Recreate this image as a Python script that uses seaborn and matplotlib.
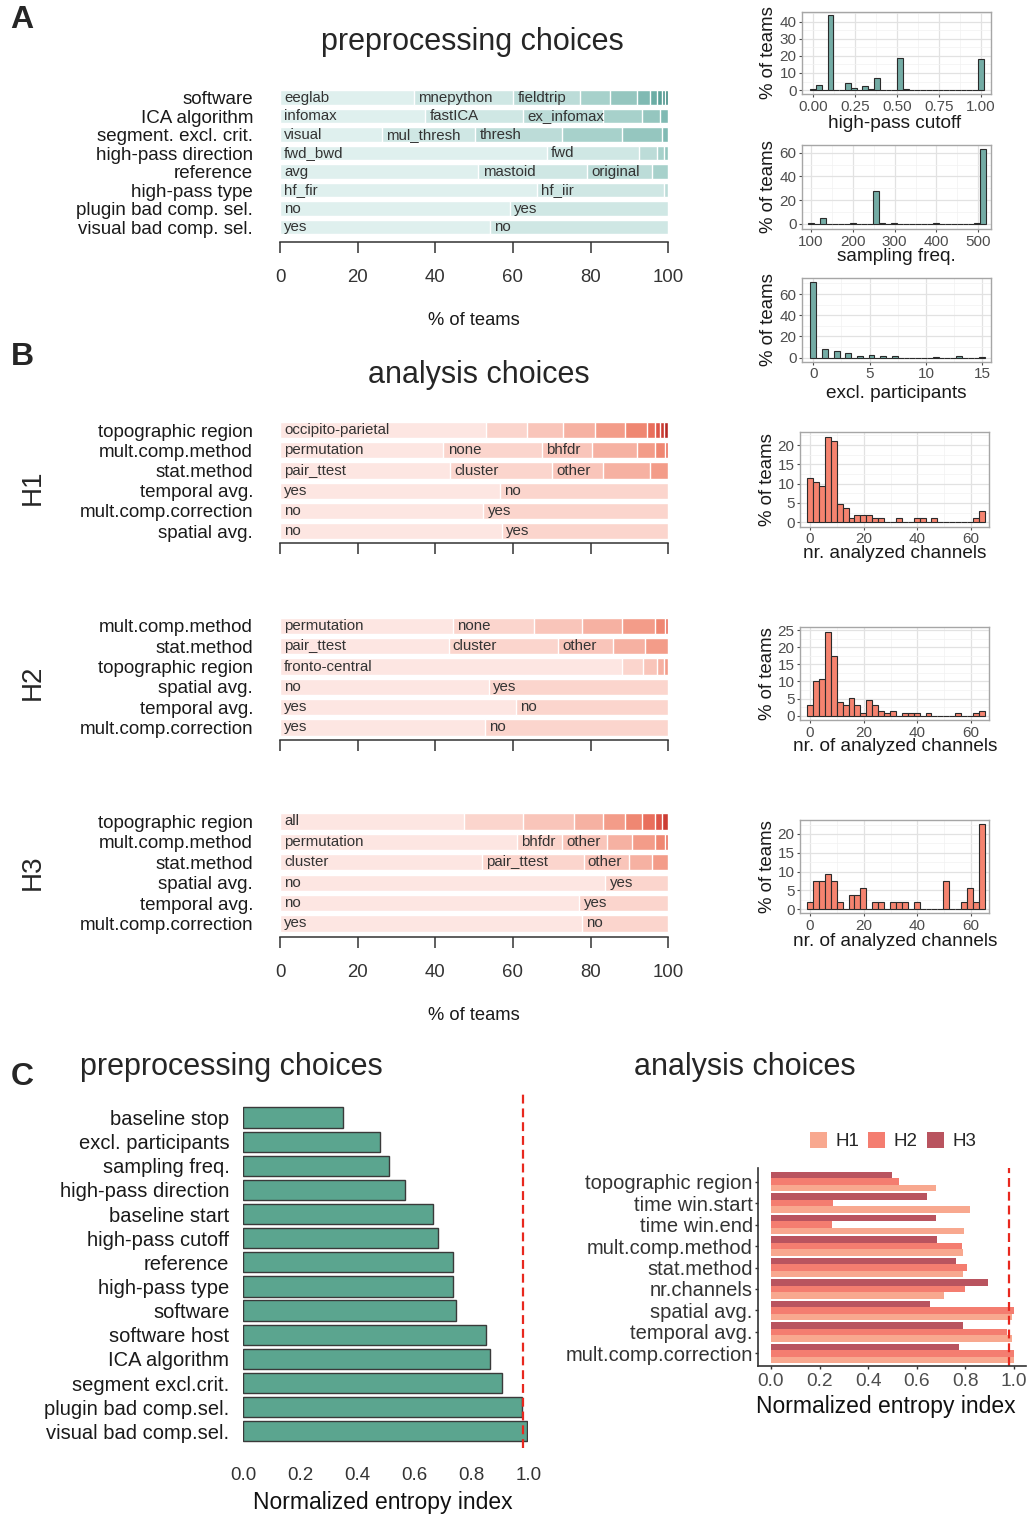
import numpy as np
import pandas as pd
import matplotlib
matplotlib.use("Agg")
import matplotlib.pyplot as plt
from matplotlib.ticker import AutoMinorLocator, FormatStrFormatter
import seaborn as sns

sns.set_theme(style="white")
plt.rcParams["font.family"] = ["Liberation Sans", "DejaVu Sans"]

# ---------------- data ----------------
# A: preprocessing choices, share of teams per option (%)
pre_rows = ["software", "ICA algorithm", "segment. excl. crit.", "high-pass direction",
            "reference", "high-pass type", "plugin bad comp. sel.", "visual bad comp. sel."]
pre_shares = [
    [34.4, 25.7, 17.2, 7.8, 6.8, 3.5, 1.7, 1.3, 0.8, 0.8],
    [37.4, 25.3, 20.6, 9.9, 4.7, 2.1],
    [26.2, 24.1, 22.3, 15.5, 10.3, 1.6],
    [68.7, 23.7, 4.7, 1.7, 1.2],
    [51.1, 27.9, 16.8, 4.2],
    [66.2, 32.6, 1.2],
    [59.3, 40.7],
    [54.1, 45.9],
]
pre_names = [
    ["eeglab", "mnepython", "fieldtrip"],
    ["infomax", "fastICA", "ex_infomax"],
    ["visual", "mul_thresh", "thresh"],
    ["fwd_bwd", "fwd"],
    ["avg", "mastoid", "original"],
    ["hf_fir", "hf_iir"],
    ["no", "yes"],
    ["yes", "no"],
]

# B: analysis choices per hypothesis (%)
h1_rows = ["topographic region", "mult.comp.method", "stat.method",
           "temporal avg.", "mult.comp.correction", "spatial avg."]
h1_shares = [
    [53.1, 10.5, 9.4, 8.2, 7.7, 5.6, 2.1, 1.3, 1.1, 1.0],
    [42.1, 25.3, 12.9, 11.6, 4.7, 2.6, 0.8],
    [43.8, 26.2, 13.3, 12.1, 4.6],
    [56.7, 43.3],
    [52.4, 47.6],
    [57.1, 42.9],
]
h1_names = [["occipito-parietal"], ["permutation", "none", "bhfdr"],
            ["pair_ttest", "cluster", "other"], ["yes", "no"], ["no", "yes"], ["no", "yes"]]

h2_rows = ["mult.comp.method", "stat.method", "topographic region",
           "spatial avg.", "temporal avg.", "mult.comp.correction"]
h2_shares = [
    [44.5, 20.8, 12.4, 10.4, 8.5, 2.6, 0.8],
    [43.4, 28.3, 14.0, 8.4, 5.9],
    [88.1, 5.4, 3.6, 1.7, 1.2],
    [53.7, 46.3],
    [60.8, 39.2],
    [52.7, 47.3],
]
h2_names = [["permutation", "none"], ["pair_ttest", "cluster", "other"], ["fronto-central"],
            ["no", "yes"], ["yes", "no"], ["yes", "no"]]

h3_rows = ["topographic region", "mult.comp.method", "stat.method",
           "spatial avg.", "temporal avg.", "mult.comp.correction"]
h3_shares = [
    [47.4, 15.1, 13.1, 7.7, 5.6, 4.3, 3.4, 1.8, 1.6],
    [61.0, 11.6, 11.6, 6.4, 6.0, 2.6, 0.8],
    [52.1, 26.1, 11.6, 6.0, 4.2],
    [83.8, 16.2],
    [77.1, 22.9],
    [77.7, 22.3],
]
h3_names = [["all"], ["permutation", "bhfdr", "other"], ["cluster", "pair_ttest", "other"],
            ["no", "yes"], ["no", "yes"], ["yes", "no"]]

# histograms: occupied bins (value, % of teams)
hp_cutoff = [0.0, 0.034, 0.103, 0.207, 0.241, 0.310, 0.345, 0.379, 0.517, 0.552, 1.0]
hp_cutoff_pct = [0.8, 3.0, 44.0, 4.0, 1.2, 2.3, 0.6, 7.2, 18.5, 0.6, 18.0]

samp_freq = [100, 128, 200, 256, 270, 300, 400, 500, 512]
samp_freq_pct = [0.6, 4.8, 0.6, 27.5, 0.6, 0.6, 0.6, 1.2, 63.5]

excl_part = [0, 1, 2, 3, 4, 5, 6, 7, 11, 13, 15]
excl_part_pct = [71.0, 8.2, 6.6, 4.7, 1.2, 2.8, 1.2, 1.2, 0.6, 1.2, 0.6]

h1_chan = [0, 2, 4, 7, 9, 11, 13, 15, 18, 20, 22, 24, 26, 33, 40, 42, 46, 62, 64]
h1_chan_pct = [11.5, 10.5, 9.5, 22.0, 21.0, 4.8, 3.8, 1.0, 1.9, 1.9, 1.9, 1.0, 1.0,
               1.0, 1.0, 1.0, 1.0, 1.0, 2.9]
h2_chan = [0, 2, 4, 7, 9, 11, 13, 15, 18, 20, 22, 24, 26, 29, 31, 35, 38, 40, 44, 55, 62, 64]
h2_chan_pct = [3.0, 10.0, 10.8, 24.5, 17.5, 4.0, 3.0, 5.3, 3.0, 0.8, 4.5, 3.0, 1.5, 0.8,
               1.5, 0.8, 0.8, 0.8, 0.8, 0.8, 0.8, 1.5]
h3_chan = [0, 2, 4, 7, 9, 11, 15, 18, 20, 24, 26, 31, 33, 35, 40, 51, 57, 60, 62, 64]
h3_chan_pct = [1.9, 7.5, 7.5, 9.4, 7.5, 1.9, 3.8, 3.8, 5.7, 1.9, 1.9, 1.9, 1.9, 1.9,
               1.9, 7.5, 1.9, 5.7, 1.9, 22.6]

# C: normalized entropy index
c_pre_labels = ["baseline stop", "excl. participants", "sampling freq.", "high-pass direction",
                "baseline start", "high-pass cutoff", "reference", "high-pass type", "software",
                "software host", "ICA algorithm", "segment excl.crit.", "plugin bad comp.sel.",
                "visual bad comp.sel."]
c_pre_entropy = [0.349, 0.480, 0.510, 0.567, 0.667, 0.683, 0.735, 0.737, 0.745,
                 0.850, 0.866, 0.907, 0.977, 0.994]

c_an_labels = ["topographic region", "time win.start", "time win.end", "mult.comp.method",
               "stat.method", "nr.channels", "spatial avg.", "temporal avg.",
               "mult.comp.correction"]
c_an_h1 = [0.678, 0.819, 0.794, 0.789, 0.791, 0.711, 0.993, 0.993, 1.0]
c_an_h2 = [0.527, 0.257, 0.252, 0.785, 0.808, 0.800, 1.0, 0.973, 1.0]
c_an_h3 = [0.497, 0.641, 0.679, 0.683, 0.760, 0.894, 0.656, 0.789, 0.775]
entropy_ref = 0.98

# ---------------- styling ----------------
teal_ramp = ["#dff0ee", "#cfe7e4", "#bcdcd8", "#a7d1cb", "#95c6bf",
             "#80bab3", "#6bada5", "#5ba198", "#4a948c", "#3d8880"]
red_ramp = ["#fde6e2", "#fbd5cd", "#f9c5ba", "#f6b1a2", "#f39c89",
            "#ef8772", "#e96f5d", "#dd5447", "#cc3c33", "#b52925"]
hist_teal = "#74aca5"
hist_red = "#f5836f"
hyp_colors = {"H1": "#f8a88f", "H2": "#f47d70", "H3": "#b9545f"}

W, H = 1031, 1514
fig = plt.figure(figsize=(W / 100, H / 100), dpi=100)
fig.patch.set_facecolor("white")


def px_axes(x0, y0, x1, y1):
    return fig.add_axes([x0 / W, 1 - y1 / H, (x1 - x0) / W, (y1 - y0) / H])


def fig_text(x, y, s, **kw):
    fig.text(x / W, 1 - y / H, s, **kw)


def ax_frac(ax, x_px, y_px):
    bb = ax.get_position()
    x0, x1 = bb.x0 * W, bb.x1 * W
    ytop, ybot = (1 - bb.y1) * H, (1 - bb.y0) * H
    return (x_px - x0) / (x1 - x0), (ybot - y_px) / (ybot - ytop)


def place_xlabel(ax, text, x_px, y_px, **kw):
    ax.set_xlabel(text, **kw)
    ax.xaxis.set_label_coords(*ax_frac(ax, x_px, y_px))
    ax.xaxis.label.set_va("center")


def place_ylabel(ax, text, x_px, y_px, **kw):
    ax.set_ylabel(text, **kw)
    ax.yaxis.set_label_coords(*ax_frac(ax, x_px, y_px))
    ax.yaxis.label.set_va("center")


def stacked_rows(ax, rows, shares, names, ramp, bottom_ext, show_ticklabels):
    nmax = max(len(s) for s in shares)
    # draw cumulative bars from the outermost segment inwards
    for k in range(nmax - 1, -1, -1):
        sub_rows = [r for r, s in zip(rows, shares) if len(s) > k]
        ends = [float(np.sum(s[:k + 1])) for s in shares if len(s) > k]
        sns.barplot(x=ends, y=sub_rows, order=rows, orient="h", color=ramp[k],
                    saturation=1, width=0.8, edgecolor="white", linewidth=1.0,
                    errorbar=None, ax=ax)
    for i, (s, nm) in enumerate(zip(shares, names)):
        starts = np.concatenate([[0.0], np.cumsum(s)[:-1]])
        for st, label in zip(starts, nm):
            ax.annotate(label, (st, i), xytext=(3, 0), textcoords="offset points",
                        va="center", ha="left", fontsize=10.8, color="#333333")
    n = len(rows)
    ax.set_xlim(0, 100)
    ax.set_ylim(n - 1 + bottom_ext, -0.5)
    for s in ("top", "right", "left"):
        ax.spines[s].set_visible(False)
    ax.spines["bottom"].set_color("#333333")
    ax.spines["bottom"].set_linewidth(1.1)
    ax.set_xticks(range(0, 101, 20))
    ax.tick_params(axis="x", bottom=True, length=8, width=1.1, color="#333333",
                   direction="out", labelsize=13.4, labelcolor="#333333", pad=11.5,
                   labelbottom=show_ticklabels)
    ax.tick_params(axis="y", left=False, length=0, pad=19.4, labelsize=13.5,
                   labelcolor="#1a1a1a")
    ax.set_xlabel("")
    ax.set_ylabel("")
    ax.set_facecolor("white")


def hist_panel(ax, values, pct, lo, hi, color, xlim, ylim, xticks, yticks, xfmt=None):
    w = (hi - lo) / 29
    sns.histplot(x=values, weights=pct, bins=30, binrange=(lo - w / 2, hi + w / 2),
                 color=color, edgecolor="#2b2b2b", linewidth=0.8, alpha=1, ax=ax)
    ax.set_xlim(*xlim)
    ax.set_ylim(*ylim)
    ax.set_xticks(xticks)
    ax.set_yticks(yticks)
    if xfmt:
        ax.xaxis.set_major_formatter(FormatStrFormatter(xfmt))
    ax.xaxis.set_minor_locator(AutoMinorLocator(2))
    ax.yaxis.set_minor_locator(AutoMinorLocator(2))
    ax.grid(True, which="major", color="#e2e2e2", lw=0.9)
    ax.grid(True, which="minor", color="#f2f2f2", lw=0.5)
    ax.set_axisbelow(True)
    for sp in ax.spines.values():
        sp.set_visible(True)
        sp.set_color("#a6a6a6")
        sp.set_linewidth(1.0)
    ax.tick_params(which="major", bottom=True, left=True, length=2.5, width=0.8,
                   color="#4d4d4d", labelsize=11, labelcolor="#4d4d4d", pad=1.5)
    ax.tick_params(which="minor", length=0)
    ax.set_facecolor("white")


# ---------------- A ----------------
fig_text(22, 20, "A", fontsize=23, weight="bold", ha="center", va="center")
fig_text(472, 42, "preprocessing choices", fontsize=22, ha="center", va="center")
axA = px_axes(280, 88.25, 668.3, 241.7)
stacked_rows(axA, pre_rows, pre_shares, pre_names, teal_ramp, 0.79, True)
place_xlabel(axA, "% of teams", 474, 320, fontsize=13.2, color="#1a1a1a")

# ---------------- B ----------------
fig_text(22, 357, "B", fontsize=23, weight="bold", ha="center", va="center")
fig_text(479, 375, "analysis choices", fontsize=22, ha="center", va="center")

axH1 = px_axes(280, 420.1, 668.3, 543.3)
stacked_rows(axH1, h1_rows, h1_shares, h1_names, red_ramp, 0.61, False)
axH2 = px_axes(280, 615.85, 668.3, 740)
stacked_rows(axH2, h2_rows, h2_shares, h2_names, red_ramp, 0.62, False)
axH3 = px_axes(280, 811.3, 668.3, 936.7)
stacked_rows(axH3, h3_rows, h3_shares, h3_names, red_ramp, 0.65, True)
place_xlabel(axH3, "% of teams", 474, 1016, fontsize=13.2, color="#1a1a1a")

for lab, yc in (("H1", 487), ("H2", 682), ("H3", 872)):
    fig_text(33, yc, lab, fontsize=20, rotation=90, ha="center", va="center")

# ---------------- histograms ----------------
ax = px_axes(802, 11.7, 991, 94.3)
hist_panel(ax, hp_cutoff, hp_cutoff_pct, 0.0, 1.0, hist_teal, (-0.067, 1.06), (-2.5, 45.9),
           [0, 0.25, 0.5, 0.75, 1.0], range(0, 41, 10), "%.2f")
place_xlabel(ax, "high-pass cutoff", 895, 123, fontsize=13.7, color="#1a1a1a")
place_ylabel(ax, "% of teams", 768.3, 53, fontsize=13.4, color="#1a1a1a")

ax = px_axes(802, 145, 991, 229.3)
hist_panel(ax, samp_freq, samp_freq_pct, 100, 512, hist_teal, (78.5, 530.4), (-4.5, 66.5),
           range(100, 501, 100), range(0, 61, 20))
place_xlabel(ax, "sampling freq.", 896, 256.7, fontsize=13.7, color="#1a1a1a")
place_ylabel(ax, "% of teams", 768.3, 187, fontsize=13.4, color="#1a1a1a")

ax = px_axes(802, 278.3, 991, 361.7)
hist_panel(ax, excl_part, excl_part_pct, 0, 15, hist_teal, (-1.0, 15.77), (-3.8, 74.8),
           [0, 5, 10, 15], range(0, 61, 20))
place_xlabel(ax, "excl. participants", 896, 393.3, fontsize=13.7, color="#1a1a1a")
place_ylabel(ax, "% of teams", 768.3, 320, fontsize=13.4, color="#1a1a1a")

chan_specs = [
    (h1_chan, h1_chan_pct, 432.3, 526.7, (-1.14, 23.3), range(0, 21, 5), "nr. analyzed channels", 553.3),
    (h2_chan, h2_chan_pct, 626.7, 720.0, (-1.26, 25.97), range(0, 26, 5), "nr. of analyzed channels", 746.7),
    (h3_chan, h3_chan_pct, 820.0, 913.3, (-1.06, 23.7), range(0, 21, 5), "nr. of analyzed channels", 941.7),
]
for vals, pct, top, bot, ylim, yt, xlab, ylab_y in chan_specs:
    ax = px_axes(800, top, 989.3, bot)
    hist_panel(ax, vals, pct, 0, 64, hist_red, (-3.73, 66.8), ylim, [0, 20, 40, 60], yt)
    place_xlabel(ax, xlab, 895, ylab_y, fontsize=13.7, color="#1a1a1a")
    place_ylabel(ax, "% of teams", 768, (top + bot) / 2, fontsize=13.4, color="#1a1a1a")

# ---------------- C ----------------
fig_text(22, 1077, "C", fontsize=23, weight="bold", ha="center", va="center")
fig_text(231, 1067, "preprocessing choices", fontsize=22, ha="center", va="center")
fig_text(745, 1067, "analysis choices", fontsize=22, ha="center", va="center")

axC1 = px_axes(243.3, 1093, 528.3, 1448)
sns.barplot(x=c_pre_entropy, y=c_pre_labels, orient="h", color="#5ba58f", saturation=1,
            edgecolor="#3a3a3a", linewidth=1.0, width=0.84, errorbar=None, ax=axC1)
axC1.axvline(entropy_ref, color="#e8281e", lw=1.6, ls=(0, (4, 2.2)))
axC1.set_xlim(0, 1.0)
axC1.set_ylim(13.69, -1.015)
for sp in axC1.spines.values():
    sp.set_visible(False)
axC1.set_xticks(np.round(np.arange(0, 1.01, 0.2), 1))
axC1.xaxis.set_major_formatter(FormatStrFormatter("%.1f"))
axC1.tick_params(axis="x", length=0, labelsize=13.5, labelcolor="#333333", pad=14)
axC1.tick_params(axis="y", length=0, labelsize=14.5, labelcolor="#1a1a1a", pad=10)
axC1.set_ylabel("")
place_xlabel(axC1, "Normalized entropy index", 383, 1502, fontsize=16.5, color="#111111")

an_df = pd.DataFrame({
    "choice": c_an_labels * 3,
    "hyp": ["H1"] * len(c_an_labels) + ["H2"] * len(c_an_labels) + ["H3"] * len(c_an_labels),
    "entropy": c_an_h1 + c_an_h2 + c_an_h3,
})
axC2 = px_axes(758.3, 1168, 1026, 1366)
sns.barplot(data=an_df, x="entropy", y="choice", hue="hyp", order=c_an_labels,
            hue_order=["H3", "H2", "H1"], palette=hyp_colors, saturation=1, width=0.91,
            orient="h", errorbar=None, linewidth=0, ax=axC2)
axC2.axvline(entropy_ref, color="#e8281e", lw=1.6, ls=(0, (4, 2.2)))
axC2.set_xlim(-0.052, 1.05)
axC2.set_ylim(8.59, -0.64)
for s in ("top", "right"):
    axC2.spines[s].set_visible(False)
for s in ("left", "bottom"):
    axC2.spines[s].set_visible(True)
    axC2.spines[s].set_color("#333333")
    axC2.spines[s].set_linewidth(1.2)
axC2.set_xticks(np.round(np.arange(0, 1.01, 0.2), 1))
axC2.xaxis.set_major_formatter(FormatStrFormatter("%.1f"))
axC2.tick_params(axis="x", bottom=True, length=2.5, width=1.0, color="#333333",
                 labelsize=13.8, labelcolor="#4d4d4d", pad=2.5)
axC2.tick_params(axis="y", left=True, length=2.5, width=1.0, color="#333333",
                 labelsize=14.5, labelcolor="#333333", pad=1.5)
axC2.set_ylabel("")
place_xlabel(axC2, "Normalized entropy index", 886, 1406.7, fontsize=16.5, color="#111111")

handles, labels = axC2.get_legend_handles_labels()
axC2.get_legend().remove()
hmap = dict(zip(labels, handles))
axC2.legend([hmap[k] for k in ("H1", "H2", "H3")], ["H1", "H2", "H3"],
            loc="center", bbox_to_anchor=(893 / W, 1 - 1141 / H),
            bbox_transform=fig.transFigure, ncol=3, frameon=False, fontsize=13.5,
            handlelength=0.9, handleheight=1.0, handletextpad=0.45, columnspacing=0.5)

fig.savefig("out.png", dpi=100, facecolor="white")
